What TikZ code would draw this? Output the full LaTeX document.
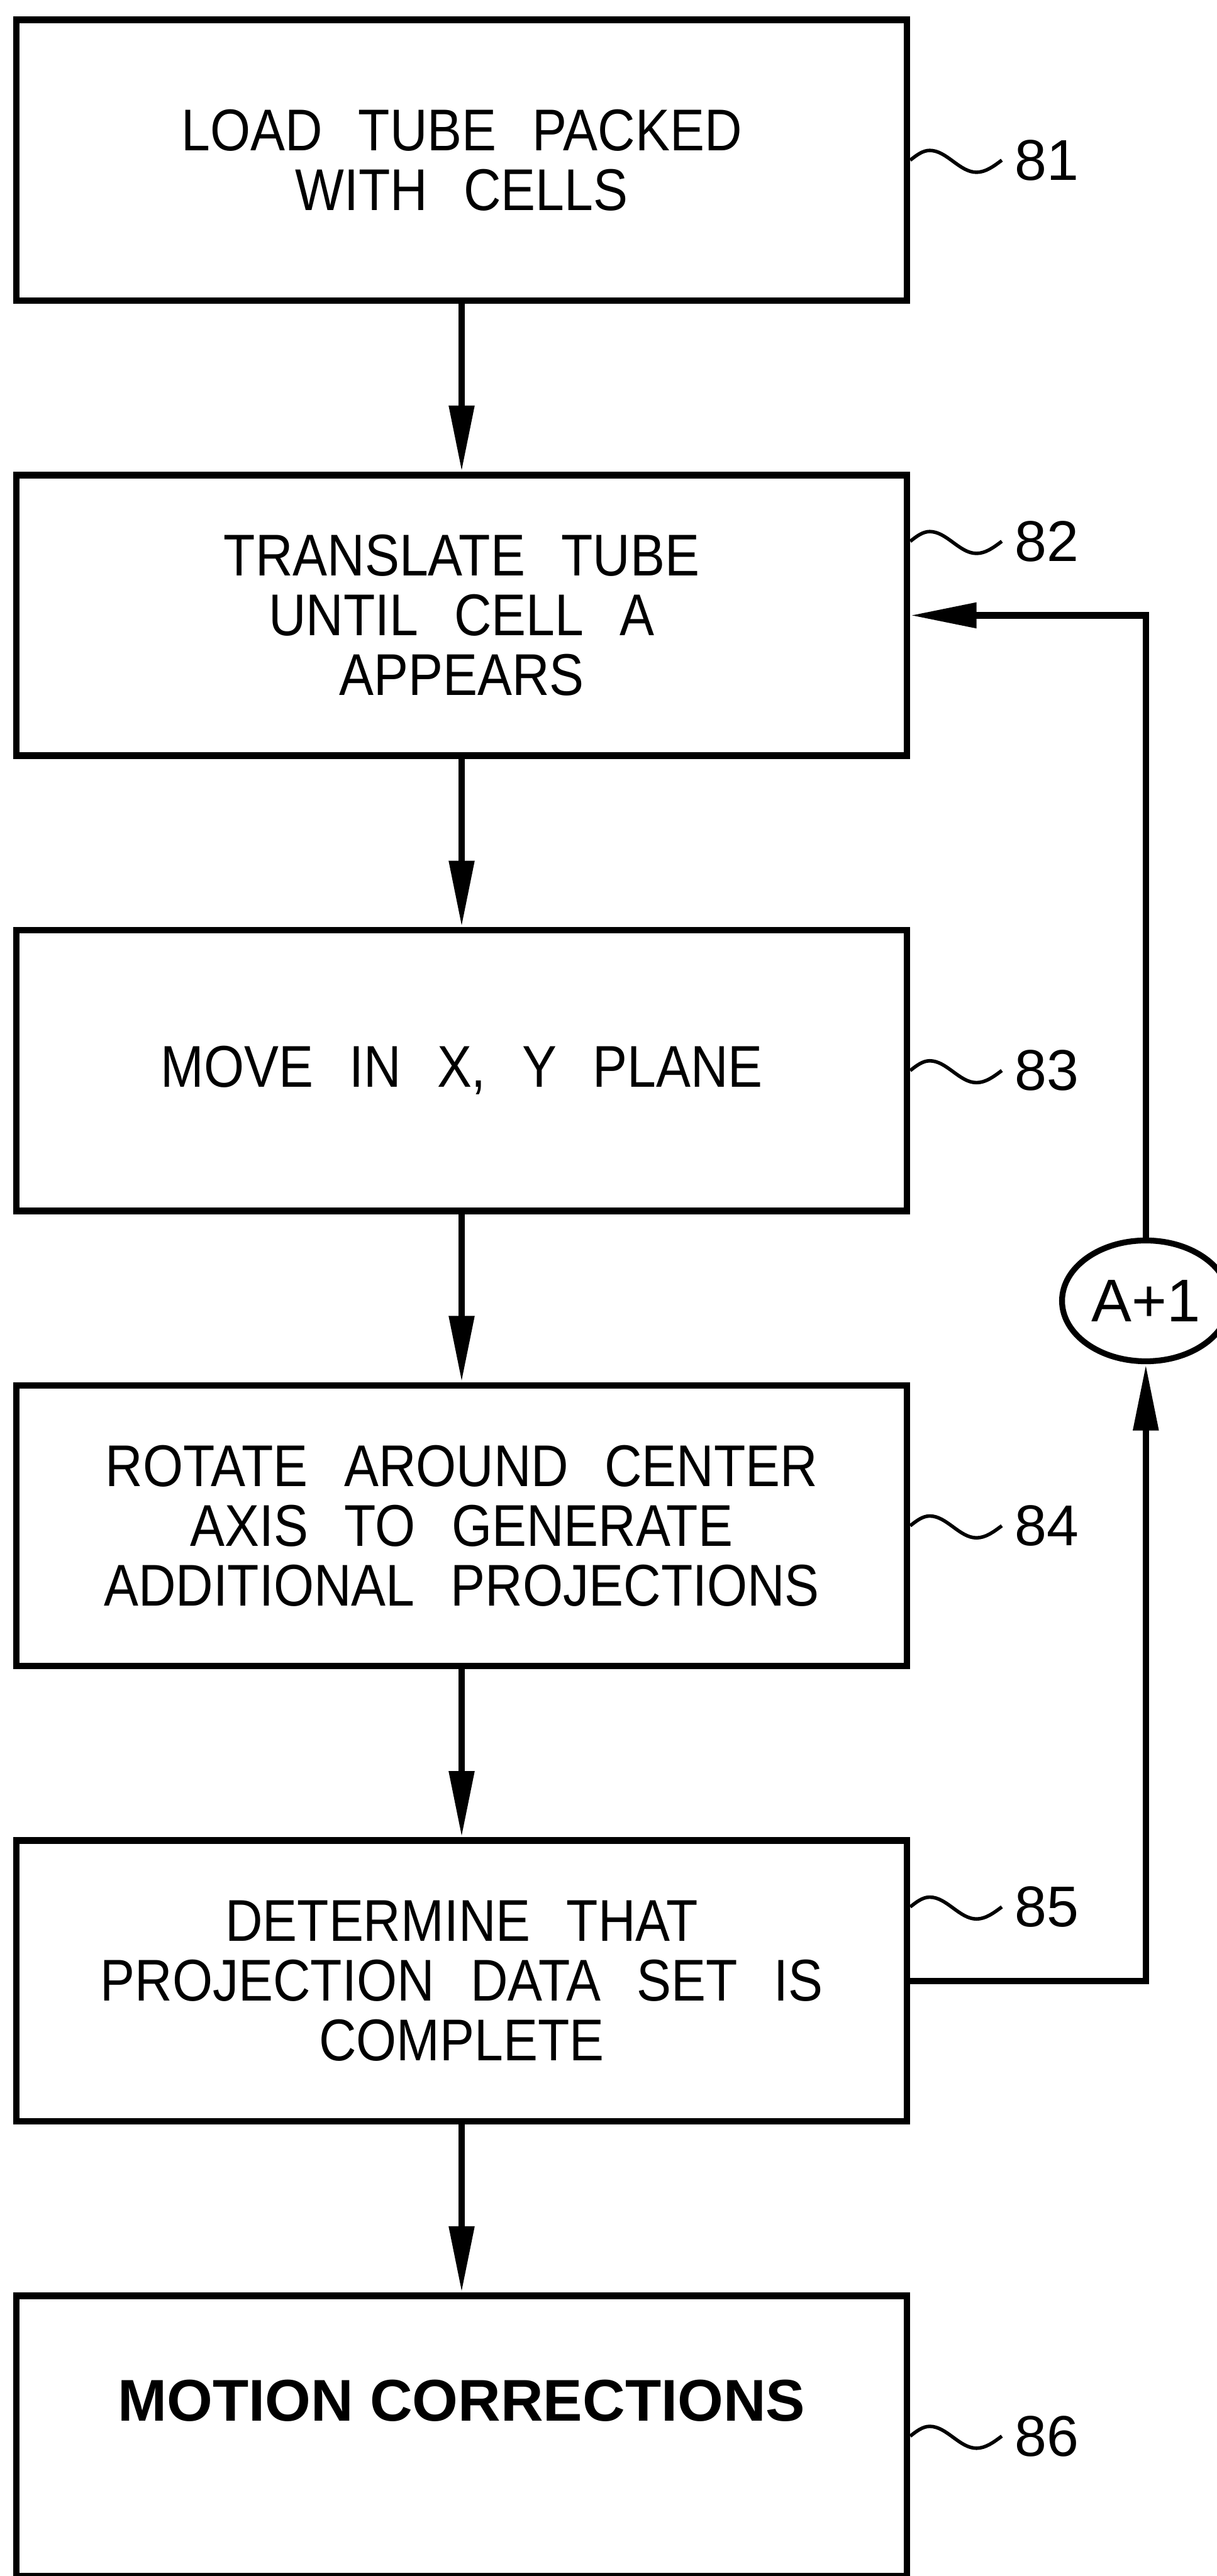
\documentclass[tikz,border=0pt]{standalone}
\usepackage{fontspec}
\setmainfont{Liberation Sans}
\newfontfamily\cadfont[FakeStretch=0.88,WordSpace=2.5]{Liberation Sans}
\usetikzlibrary{arrows.meta, positioning, shapes.geometric}
\tikzset{
  stepbox/.style={
    draw, line width=0.17cm,
    minimum width=22.85cm, minimum height=7.2cm, align=center,
    font=\cadfont\fontsize{43pt}{43.5pt}\selectfont,
  },
  incnode/.style={ellipse, draw, line width=0.15cm, minimum width=4.3cm,
    minimum height=3.1cm, inner sep=0pt, font=\fontsize{44pt}{48pt}\selectfont},
  flow/.style={-{Triangle[length=1.7cm,width=0.62cm]}, line width=0.17cm},
  lead/.style={line width=0.09cm},
  reftag/.style={anchor=west, inner xsep=0.33cm, inner ysep=0pt,
    font=\fontsize{42pt}{46pt}\selectfont},
}

\begin{document}
\begin{tikzpicture}[node distance=4.31cm]
\useasboundingbox (0,0) rectangle (31.22,-66.10);

% ── process steps (top to bottom) ──────────────────────────────
\node[stepbox] (load) at (11.845,-4.11) {LOAD TUBE PACKED\\WITH CELLS};
\node[stepbox, below=of load]   (transl) {TRANSLATE TUBE\\UNTIL CELL A\\APPEARS};
\node[stepbox, below=of transl] (move)   {MOVE IN X, Y PLANE};
\node[stepbox, below=of move]   (rot)    {ROTATE AROUND CENTER\\AXIS TO GENERATE\\ADDITIONAL PROJECTIONS};
\node[stepbox, below=of rot]    (det)    {DETERMINE THAT\\PROJECTION DATA SET IS\\COMPLETE};
\node[stepbox, below=of det, font=\bfseries\fontsize{43pt}{48pt}\selectfont]
  (motion) {\raisebox{0.39cm}[0pt][0pt]{MOTION CORRECTIONS}};

% ── cell counter on the return path ────────────────────────────
\node[incnode] (inc) at (29.40,-33.38) {A+1};

% ── flow edges ─────────────────────────────────────────────────
\draw[flow] (load)   -- (transl);
\draw[flow] (transl) -- (move);
\draw[flow] (move)   -- (rot);
\draw[flow] (rot)    -- (det);
\draw[flow] (det)    -- (motion);
\draw[flow] (det.east) -| (inc.south);
\draw[flow] (inc.north) |- (transl.east);

% ── reference numerals ─────────────────────────────────────────
\node[reftag] (n81) at ([xshift=2.35cm]load.east) {81};
\node[reftag] (n82) at ([xshift=2.35cm,yshift=1.9cm]transl.east) {82};
\node[reftag] (n83) at ([xshift=2.35cm]move.east) {83};
\node[reftag] (n84) at ([xshift=2.35cm]rot.east) {84};
\node[reftag] (n85) at ([xshift=2.35cm,yshift=1.9cm]det.east) {85};
\node[reftag] (n86) at ([xshift=2.35cm]motion.east) {86};

\draw[lead] (load.east)             sin ++(0.5,0.25) cos ++(0.6,-0.28) sin ++(0.6,-0.28) cos (n81.west);
\draw[lead] (transl.east |- n82.west) sin ++(0.5,0.25) cos ++(0.6,-0.28) sin ++(0.6,-0.28) cos (n82.west);
\draw[lead] (move.east)             sin ++(0.5,0.25) cos ++(0.6,-0.28) sin ++(0.6,-0.28) cos (n83.west);
\draw[lead] (rot.east)              sin ++(0.5,0.25) cos ++(0.6,-0.28) sin ++(0.6,-0.28) cos (n84.west);
\draw[lead] (det.east |- n85.west)  sin ++(0.5,0.25) cos ++(0.6,-0.28) sin ++(0.6,-0.28) cos (n85.west);
\draw[lead] (motion.east)           sin ++(0.5,0.25) cos ++(0.6,-0.28) sin ++(0.6,-0.28) cos (n86.west);

\end{tikzpicture}
\end{document}
